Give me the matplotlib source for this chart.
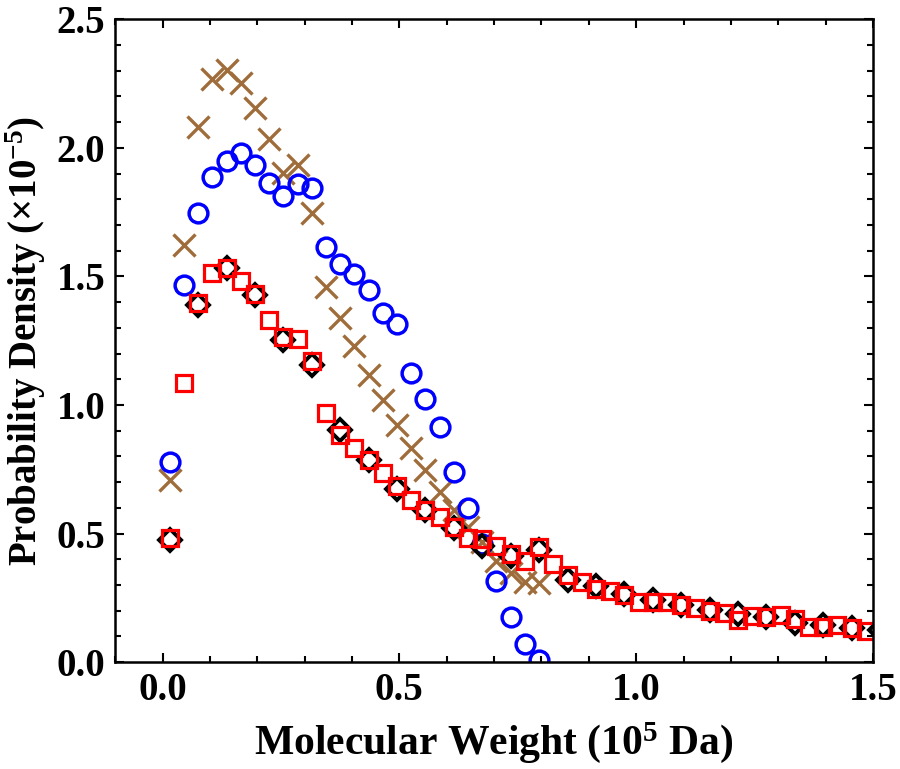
import numpy as np
import matplotlib
matplotlib.use('Agg')
import matplotlib.pyplot as plt
from matplotlib.ticker import MultipleLocator

# ── Fonts: bold serif everywhere, mathtext too ───────────────────────────
plt.rcParams['font.family'] = ['Liberation Serif', 'DejaVu Serif']
plt.rcParams['font.weight'] = 'bold'
plt.rcParams['mathtext.fontset'] = 'custom'
plt.rcParams['mathtext.rm'] = 'Liberation Serif:bold'
plt.rcParams['mathtext.it'] = 'Liberation Serif:bold'
plt.rcParams['mathtext.bf'] = 'Liberation Serif:bold'
plt.rcParams['mathtext.default'] = 'rm'

# ── Data (x in 10^5 Da, density in 10^-5) ────────────────────────────────
bin_width = 0.03
x_fine = np.round(0.015 + bin_width * np.arange(50), 3)      # squares
x_coarse = np.round(0.015 + 2 * bin_width * np.arange(26), 3)  # diamonds
x_short = x_fine[:27]                                          # circles / crosses

squares = [0.481, 1.087, 1.395, 1.515, 1.531, 1.481, 1.433, 1.330, 1.265, 1.255,
           1.171, 0.967, 0.883, 0.831, 0.785, 0.736, 0.684, 0.630, 0.591, 0.565,
           0.526, 0.481, 0.477, 0.453, 0.420, 0.393, 0.448, 0.382, 0.340, 0.312,
           0.286, 0.277, 0.260, 0.234, 0.232, 0.232, 0.222, 0.210, 0.200, 0.190,
           0.165, 0.179, 0.176, 0.183, 0.168, 0.138, 0.138, 0.144, 0.131, 0.122]

diamonds = [0.474, 1.388, 1.531, 1.427, 1.252, 1.155, 0.902, 0.785, 0.675, 0.591,
            0.520, 0.452, 0.413, 0.435, 0.318, 0.295, 0.265, 0.241, 0.222, 0.202,
            0.186, 0.176, 0.154, 0.144, 0.131, 0.125]

circles = [0.779, 1.468, 1.745, 1.887, 1.949, 1.978, 1.932, 1.864, 1.813, 1.858,
           1.844, 1.615, 1.550, 1.509, 1.446, 1.356, 1.314, 1.125, 1.025, 0.913,
           0.738, 0.598, 0.461, 0.314, 0.174, 0.071, 0.010]

crosses = [0.708, 1.621, 2.079, 2.267, 2.304, 2.252, 2.155, 2.033, 1.902, 1.932,
           1.748, 1.457, 1.340, 1.230, 1.116, 1.019, 0.921, 0.831, 0.747, 0.662,
           0.590, 0.526, 0.468, 0.395, 0.345, 0.312, 0.306]

brown = '#9e6d3b'

# ── Plot ─────────────────────────────────────────────────────────────────
fig = plt.figure(figsize=(9, 7.69), dpi=100)
ax = fig.add_axes([0.128, 0.139, 0.842, 0.836])

ax.plot(x_short, crosses, ls='none', marker='x', ms=16, mew=2.4, color=brown)
ax.plot(x_short, circles, ls='none', marker='o', ms=13.5, mew=2.5,
        mfc='none', mec='blue')
ax.plot(x_coarse, diamonds, ls='none', marker='D', ms=11, mew=2.8,
        mfc='none', mec='black')
ax.plot(x_fine, squares, ls='none', marker='s', ms=12, mew=2.3,
        mfc='none', mec='red')

ax.set_xlim(-0.1, 1.5)
ax.set_ylim(0, 2.5)
ax.xaxis.set_major_locator(MultipleLocator(0.5))
ax.xaxis.set_minor_locator(MultipleLocator(0.1))
ax.yaxis.set_major_locator(MultipleLocator(0.5))
ax.yaxis.set_minor_locator(MultipleLocator(0.1))
ax.xaxis.set_major_formatter(lambda v, p: f'{v:.1f}')
ax.yaxis.set_major_formatter(lambda v, p: f'{v:.1f}')

ax.tick_params(which='both', direction='in', top=True, right=True, width=1.5)
ax.tick_params(which='major', length=6.5, labelsize=28, pad=7)
ax.tick_params(which='minor', length=4)
for lab in ax.get_xticklabels() + ax.get_yticklabels():
    lab.set_fontweight('bold')
for sp in ax.spines.values():
    sp.set_linewidth(1.8)

ax.set_xlabel('Molecular Weight (10$^{5}$ Da)', fontsize=30, fontweight='bold', labelpad=8)
ax.set_ylabel('Probability Density ($\\times$10$^{-5}$)', fontsize=28,
              fontweight='bold', labelpad=6)

fig.savefig('out.png', dpi=100)
